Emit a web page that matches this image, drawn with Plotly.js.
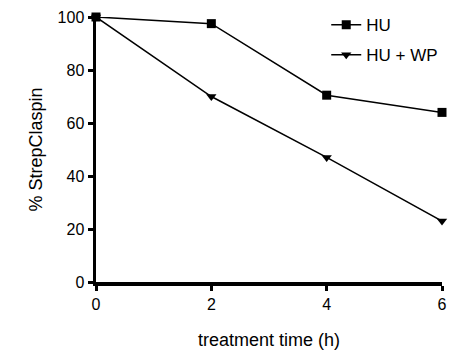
<!DOCTYPE html>
<html><head><meta charset="utf-8">
<script src="https://cdn.plot.ly/plotly-3.0.1.min.js"></script>
<style>html,body{margin:0;padding:0;background:#fff}#chart{width:455px;height:354px}</style>
</head><body><div id="chart"></div>
<script>
const timeH = [0, 2, 4, 6];
const huValues = [100, 97.5, 70.5, 64];
const huWpValues = [100, 70, 47, 23];
const seriesNames = ["HU", "HU + WP"];
const xTicks = [0, 2, 4, 6];
const yTicks = [0, 20, 40, 60, 80, 100];

const traces = [
  {x: timeH, y: huValues, name: seriesNames[0], legendgroup: "a", mode: "lines+markers", cliponaxis: false,
   line: {color: "#000", width: 1.5}, marker: {symbol: "square", size: 9, color: "#000"}},
  {x: timeH, y: huWpValues, name: seriesNames[1], legendgroup: "b", mode: "lines+markers", cliponaxis: false,
   line: {color: "#000", width: 1.5}, marker: {symbol: "triangle-down", size: 9, color: "#000"}}
];
const font = {family: "Liberation Sans, Arial, sans-serif", color: "#000"};
const layout = {
  width: 455, height: 354,
  margin: {l: 96, r: 13, t: 17, b: 72, autoexpand: false},
  paper_bgcolor: "#fff", plot_bgcolor: "#fff",
  font: font,
  showlegend: true,
  legend: {x: 0.717, y: 0.98, xref: "container", yref: "container", xanchor: "left", yanchor: "top",
           font: {size: 17, family: font.family}, traceorder: "grouped",
           tracegroupgap: 5, itemwidth: 30, bgcolor: "rgba(0,0,0,0)"},
  xaxis: {range: [0, 6], tickvals: xTicks, ticks: "outside", ticklen: 5, tickwidth: 3, tickcolor: "#000",
          showline: true, linewidth: 3.5, linecolor: "#000", showgrid: false, zeroline: false,
          tickfont: {size: 16}, title: {text: "treatment time (h)", font: {size: 18}, standoff: 22}},
  yaxis: {range: [0, 100], tickvals: yTicks, ticks: "outside", ticklen: 5, tickwidth: 3, tickcolor: "#000",
          showline: true, linewidth: 3.5, linecolor: "#000", showgrid: false, zeroline: false,
          tickfont: {size: 16}, title: {text: "% StrepClaspin", font: {size: 18}, standoff: 11}}
};
Plotly.newPlot("chart", traces, layout, {staticPlot: true});
</script></body></html>
